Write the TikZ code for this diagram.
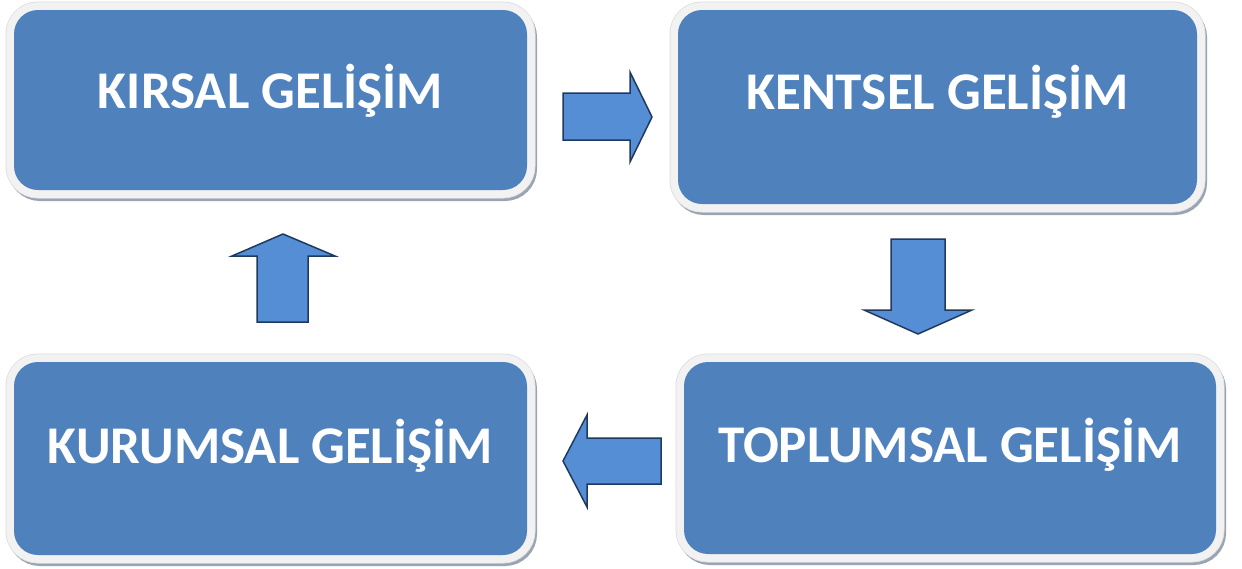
\documentclass[tikz,border=0pt]{standalone}
\usepackage{fontspec}
\setmainfont{Carlito}
\definecolor{boxblue}{HTML}{4F81BD}
\definecolor{framecol}{HTML}{F2F2F2}
\definecolor{frameedge}{HTML}{DCDCDC}
\definecolor{shadowcol}{HTML}{9AA5B4}
\definecolor{arrowfill}{HTML}{558ED5}
\definecolor{arrowedge}{HTML}{1F3A5F}
\begin{document}
\begin{tikzpicture}[x=1pt,y=-1pt,
  stagebox/.style={rectangle, rounded corners=24pt, fill=boxblue, inner sep=0pt,
    preaction={draw=shadowcol, line width=16pt, transform canvas={shift={(2pt,-3pt)}}},
    preaction={draw=frameedge, line width=17pt},
    preaction={draw=framecol, line width=15.5pt}},
  stagetext/.style={text=white, font=\bfseries\fontsize{53}{60}\selectfont, inner sep=0pt},
  blockarrow/.style={fill=arrowfill, draw=arrowedge, line width=1.5pt, line join=miter}]
\useasboundingbox (0,0) rectangle (1242,568);
\fill[white] (0,0) rectangle (1242,568);

\node[stagebox, minimum width=513pt, minimum height=180pt] (b1) at (270.5,100) {};
\node[stagebox, minimum width=519pt, minimum height=194pt] (b2) at (937.5,107) {};
\node[stagebox, minimum width=532pt, minimum height=192pt] (b3) at (950,458) {};
\node[stagebox, minimum width=513pt, minimum height=193pt] (b4) at (270.5,458.5) {};

\node[stagetext] (t1) at ([yshift=9pt]b1.center) {KIRSAL GELİŞİM};
\node[stagetext] (t2) at ([yshift=15pt]b2.center) {KENTSEL GELİŞİM};
\node[stagetext] (t3) at ([yshift=13pt]b3.center) {TOPLUMSAL GELİŞİM};
\node[stagetext] (t4) at ([yshift=13pt]b4.center) {KURUMSAL GELİŞİM};

% right arrow (b1 -> b2)
\draw[blockarrow] (563,93) -- (630,93) -- (630,72) -- (652,117) -- (630,162) -- (630,140) -- (563,140) -- cycle;
% down arrow (b2 -> b3)
\draw[blockarrow] (891,239) -- (945,239) -- (945,310) -- (972,310) -- (918,334) -- (864,310) -- (891,310) -- cycle;
% left arrow (b3 -> b4)
\draw[blockarrow] (661,438) -- (587,438) -- (587,415) -- (563,461) -- (587,507) -- (587,484) -- (661,484) -- cycle;
% up arrow (b4 -> b1)
\draw[blockarrow] (257,322) -- (257,256) -- (232,256) -- (283,234) -- (335,256) -- (308,256) -- (308,322) -- cycle;
\end{tikzpicture}
\end{document}
